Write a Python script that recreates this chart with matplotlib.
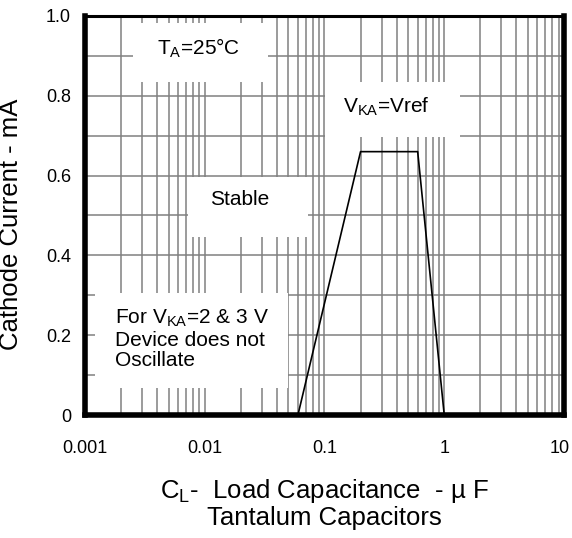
import matplotlib
matplotlib.use("Agg")
import matplotlib.pyplot as plt
import matplotlib.transforms as mtransforms
from matplotlib.patches import Rectangle
import numpy as np

plt.rcParams["font.family"] = ["Liberation Sans", "DejaVu Sans"]
plt.rcParams["mathtext.fontset"] = "custom"
plt.rcParams["mathtext.rm"] = "Liberation Sans"
plt.rcParams["mathtext.default"] = "regular"

# data
cap_uF = [0.06, 0.2, 0.6, 1.0]
current_mA = [0.0, 0.66, 0.66, 0.0]

x_ticks = [0.001, 0.01, 0.1, 1, 10]
x_labels = ["0.001", "0.01", "0.1", "1", "10"]
y_ticks = [0, 0.2, 0.4, 0.6, 0.8, 1.0]
y_labels = ["0", "0.2", "0.4", "0.6", "0.8", "1.0"]

# label boxes: (x0, x1, y0, y1) in data units
boxes = [
    (0.00252, 0.0337, 0.835, 0.982),
    (0.00725, 0.0728, 0.447, 0.596),
    (0.101, 1.35, 0.697, 0.835),
    (0.00121, 0.0496, 0.068, 0.306),
]

fig = plt.figure(figsize=(5.72, 5.38), dpi=100)
ax = fig.add_axes([0.1486, 0.2286, 0.8374, 0.7417])
ax.set_xscale("log")
ax.set_xlim(0.001, 10)
ax.set_ylim(0, 1.0)

# grid
minor = [m * 10.0 ** e for e in range(-3, 1) for m in range(2, 10)]
for xv in minor + [0.01, 0.1, 1]:
    ax.axvline(xv, color="#808080", lw=1.1, zorder=1)
for yv in np.arange(1, 10) / 10:
    ax.axhline(yv, color="#808080", lw=1.1, zorder=1)

for x0, x1, y0, y1 in boxes:
    ax.add_patch(Rectangle((x0, y0), x1 - x0, y1 - y0, facecolor="white",
                           edgecolor="none", zorder=2))

ax.plot(cap_uF, current_mA, color="black", lw=1.2, zorder=3)

ax.text(0.00399, 0.92, "T$_{A}$=25°C", fontsize=15, va="center", zorder=4)
ax.text(0.0197, 0.539, "Stable", fontsize=15, ha="center", va="center", zorder=4)
ax.text(0.1426, 0.772, "V$_{KA}$=Vref", fontsize=15, va="center", zorder=4)
ax.text(0.00178, 0.19, "For V$_{KA}$=2 & 3 V\nDevice does not\nOscillate",
        fontsize=15, va="center", linespacing=1.1, zorder=4)

ax.set_xticks(x_ticks)
ax.set_xticklabels(x_labels)
ax.set_xticks([], minor=True)
ax.set_yticks(y_ticks)
ax.set_yticklabels(y_labels)
ax.tick_params(axis="both", length=0, labelsize=13)
ax.tick_params(axis="x", pad=18)
ax.tick_params(axis="y", pad=10)

# last x label sits a little inside the figure edge
last = ax.get_xticklabels()[-1]
last.set_transform(last.get_transform() +
                   mtransforms.ScaledTranslation(-3 / 72, 0, fig.dpi_scale_trans))

for side in ["left", "bottom", "right"]:
    ax.spines[side].set_linewidth(4)
ax.spines["top"].set_linewidth(2.2)
for s in ax.spines.values():
    s.set_zorder(5)

ax.set_ylabel("Cathode Current - mA", fontsize=18.5)
ax.yaxis.set_label_coords(-0.129, 0.479)
ax.set_xlabel("C$_{L}$-  Load Capacitance  - µ F\nTantalum Capacitors",
              fontsize=18.5, linespacing=1.05)
ax.xaxis.set_label_coords(0.5, -0.155)

fig.savefig("out.png", dpi=100)
